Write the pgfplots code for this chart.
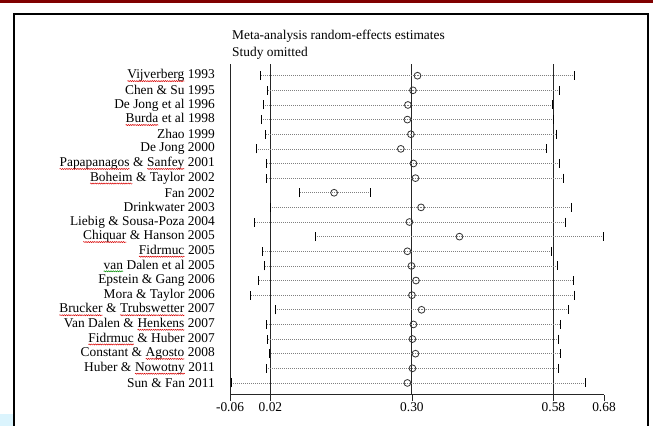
\documentclass[border=0pt]{standalone}
\usepackage{pgfplots}
\pgfplotsset{compat=1.18}
\usepackage{pgfplotstable}
\usetikzlibrary{decorations.pathmorphing}
\usepackage{fontspec}
\setmainfont{Liberation Serif}
\newcommand\sqx[2]{\tikz[baseline=(w.base)]{\node[inner sep=0pt, outer sep=0pt](w){#2};
  \draw[#1, line width=0.5bp, decorate, decoration={snake, amplitude=0.55bp, segment length=2.2bp}] ([yshift=-2.3bp]w.base west) -- ([yshift=-2.3bp]w.base east);}}
\newcommand\sqr[1]{\sqx{red!85!black}{#1}}
\newcommand\sqg[1]{\sqx{green!55!black}{#1}}
\newcommand\fs{\fontsize{13.4bp}{16bp}\selectfont}

\pgfplotstableread{
row est lo hi
1 0.311 0.000 0.621
2 0.302 0.014 0.592
3 0.292 0.006 0.578
4 0.291 0.002 0.580
5 0.298 0.011 0.586
6 0.278 -0.008 0.566
7 0.303 0.013 0.592
8 0.307 0.013 0.600
9 0.146 0.077 0.218
10 0.318 0.020 0.616
11 0.295 -0.012 0.604
12 0.394 0.110 0.678
13 0.291 0.004 0.576
14 0.299 0.009 0.588
15 0.308 -0.003 0.619
16 0.300 -0.020 0.621
17 0.319 0.030 0.609
18 0.303 0.013 0.593
19 0.301 0.015 0.590
20 0.307 0.018 0.594
21 0.301 0.013 0.590
22 0.291 -0.058 0.644
}\datatab

\begin{document}
\begin{tikzpicture}
\useasboundingbox (0,0) rectangle (653bp,-426bp);
\fill[white] (0,0) rectangle (653bp,-426bp);
\fill[red!50!black] (0,0) rectangle (653bp,-3bp);
\fill[cyan!14] (0,-414bp) rectangle (13.3bp,-426bp);
\draw[black, line width=2bp] (14.3bp,-426bp) -- (14.3bp,-14bp) -- (648bp,-14bp) -- (648bp,-426bp);

\node[anchor=base west, inner sep=0pt, font=\fs] at (232bp,-39bp) {Meta-analysis random-effects estimates};
\node[anchor=base west, inner sep=0pt, font=\fs] at (232bp,-56bp) {Study omitted};

\begin{axis}[
  at={(230bp,-394.5bp)}, anchor=south west,
  width=374bp, height=330.5bp, scale only axis,
  xmin=-0.06, xmax=0.68, ymin=0.2, ymax=22.79, y dir=reverse,
  axis x line*=bottom, axis y line*=left,
  axis line style={-, black!85, line width=0.9bp},
  xtick={-0.06,0.02,0.30,0.58,0.68},
  xticklabels={-0.06,0.02,0.30,0.58,0.68},
  ytick={1,...,22},
  yticklabels={
    {\sqr{Vijverberg} 1993},
    {Chen \& Su 1995},
    {De Jong et al 1996},
    {\sqr{Burda} et al 1998},
    {Zhao 1999},
    {De Jong 2000},
    {\sqr{Papapanagos} \& \sqr{Sanfey} 2001},
    {\sqr{Boheim} \& Taylor 2002},
    {Fan 2002},
    {Drinkwater 2003},
    {Liebig \& Sousa-Poza 2004},
    {\sqr{Chiquar} \& Hanson 2005},
    {\sqr{Fidrmuc} 2005},
    {\sqg{van} Dalen et al 2005},
    {Epstein \& Gang 2006},
    {Mora \& Taylor 2006},
    {\sqr{Brucker} \& \sqr{Trubswetter} 2007},
    {Van Dalen \& \sqr{Henkens} 2007},
    {\sqr{Fidrmuc} \& Huber 2007},
    {Constant \& \sqr{Agosto} 2008},
    {Huber \& \sqr{Nowotny} 2011},
    {Sun \& Fan 2011}},
  tick align=outside, major tick length=6bp,
  y tick style={draw=none},
  x tick style={black!85, line width=0.8bp},
  tick label style={font=\fs},
  y tick label style={anchor=east, inner sep=0pt, xshift=-9bp},
  x tick label style={inner sep=2pt},
  clip=false,
]
\draw[black!85, line width=0.9bp] (axis cs:0.02,0.2) -- (axis cs:0.02,22.79);
\draw[black!85, line width=0.9bp] (axis cs:0.30,0.2) -- (axis cs:0.30,22.79);
\draw[black!85, line width=0.9bp] (axis cs:0.58,0.2) -- (axis cs:0.58,22.79);
\addplot[only marks, mark=o, mark size=3.4bp,
  mark options={black!80, line width=0.8bp},
  error bars/.cd, x dir=both, x explicit, error mark=|,
  error bar style={gray, line width=0.6bp, dash pattern=on 0.6bp off 1.4bp},
  error mark options={solid, black, line width=0.9bp, mark size=4.5bp}]
  table[x=est, y=row, x error plus expr=\thisrow{hi}-\thisrow{est}, x error minus expr=\thisrow{est}-\thisrow{lo}] {\datatab};
\end{axis}
\end{tikzpicture}
\end{document}
